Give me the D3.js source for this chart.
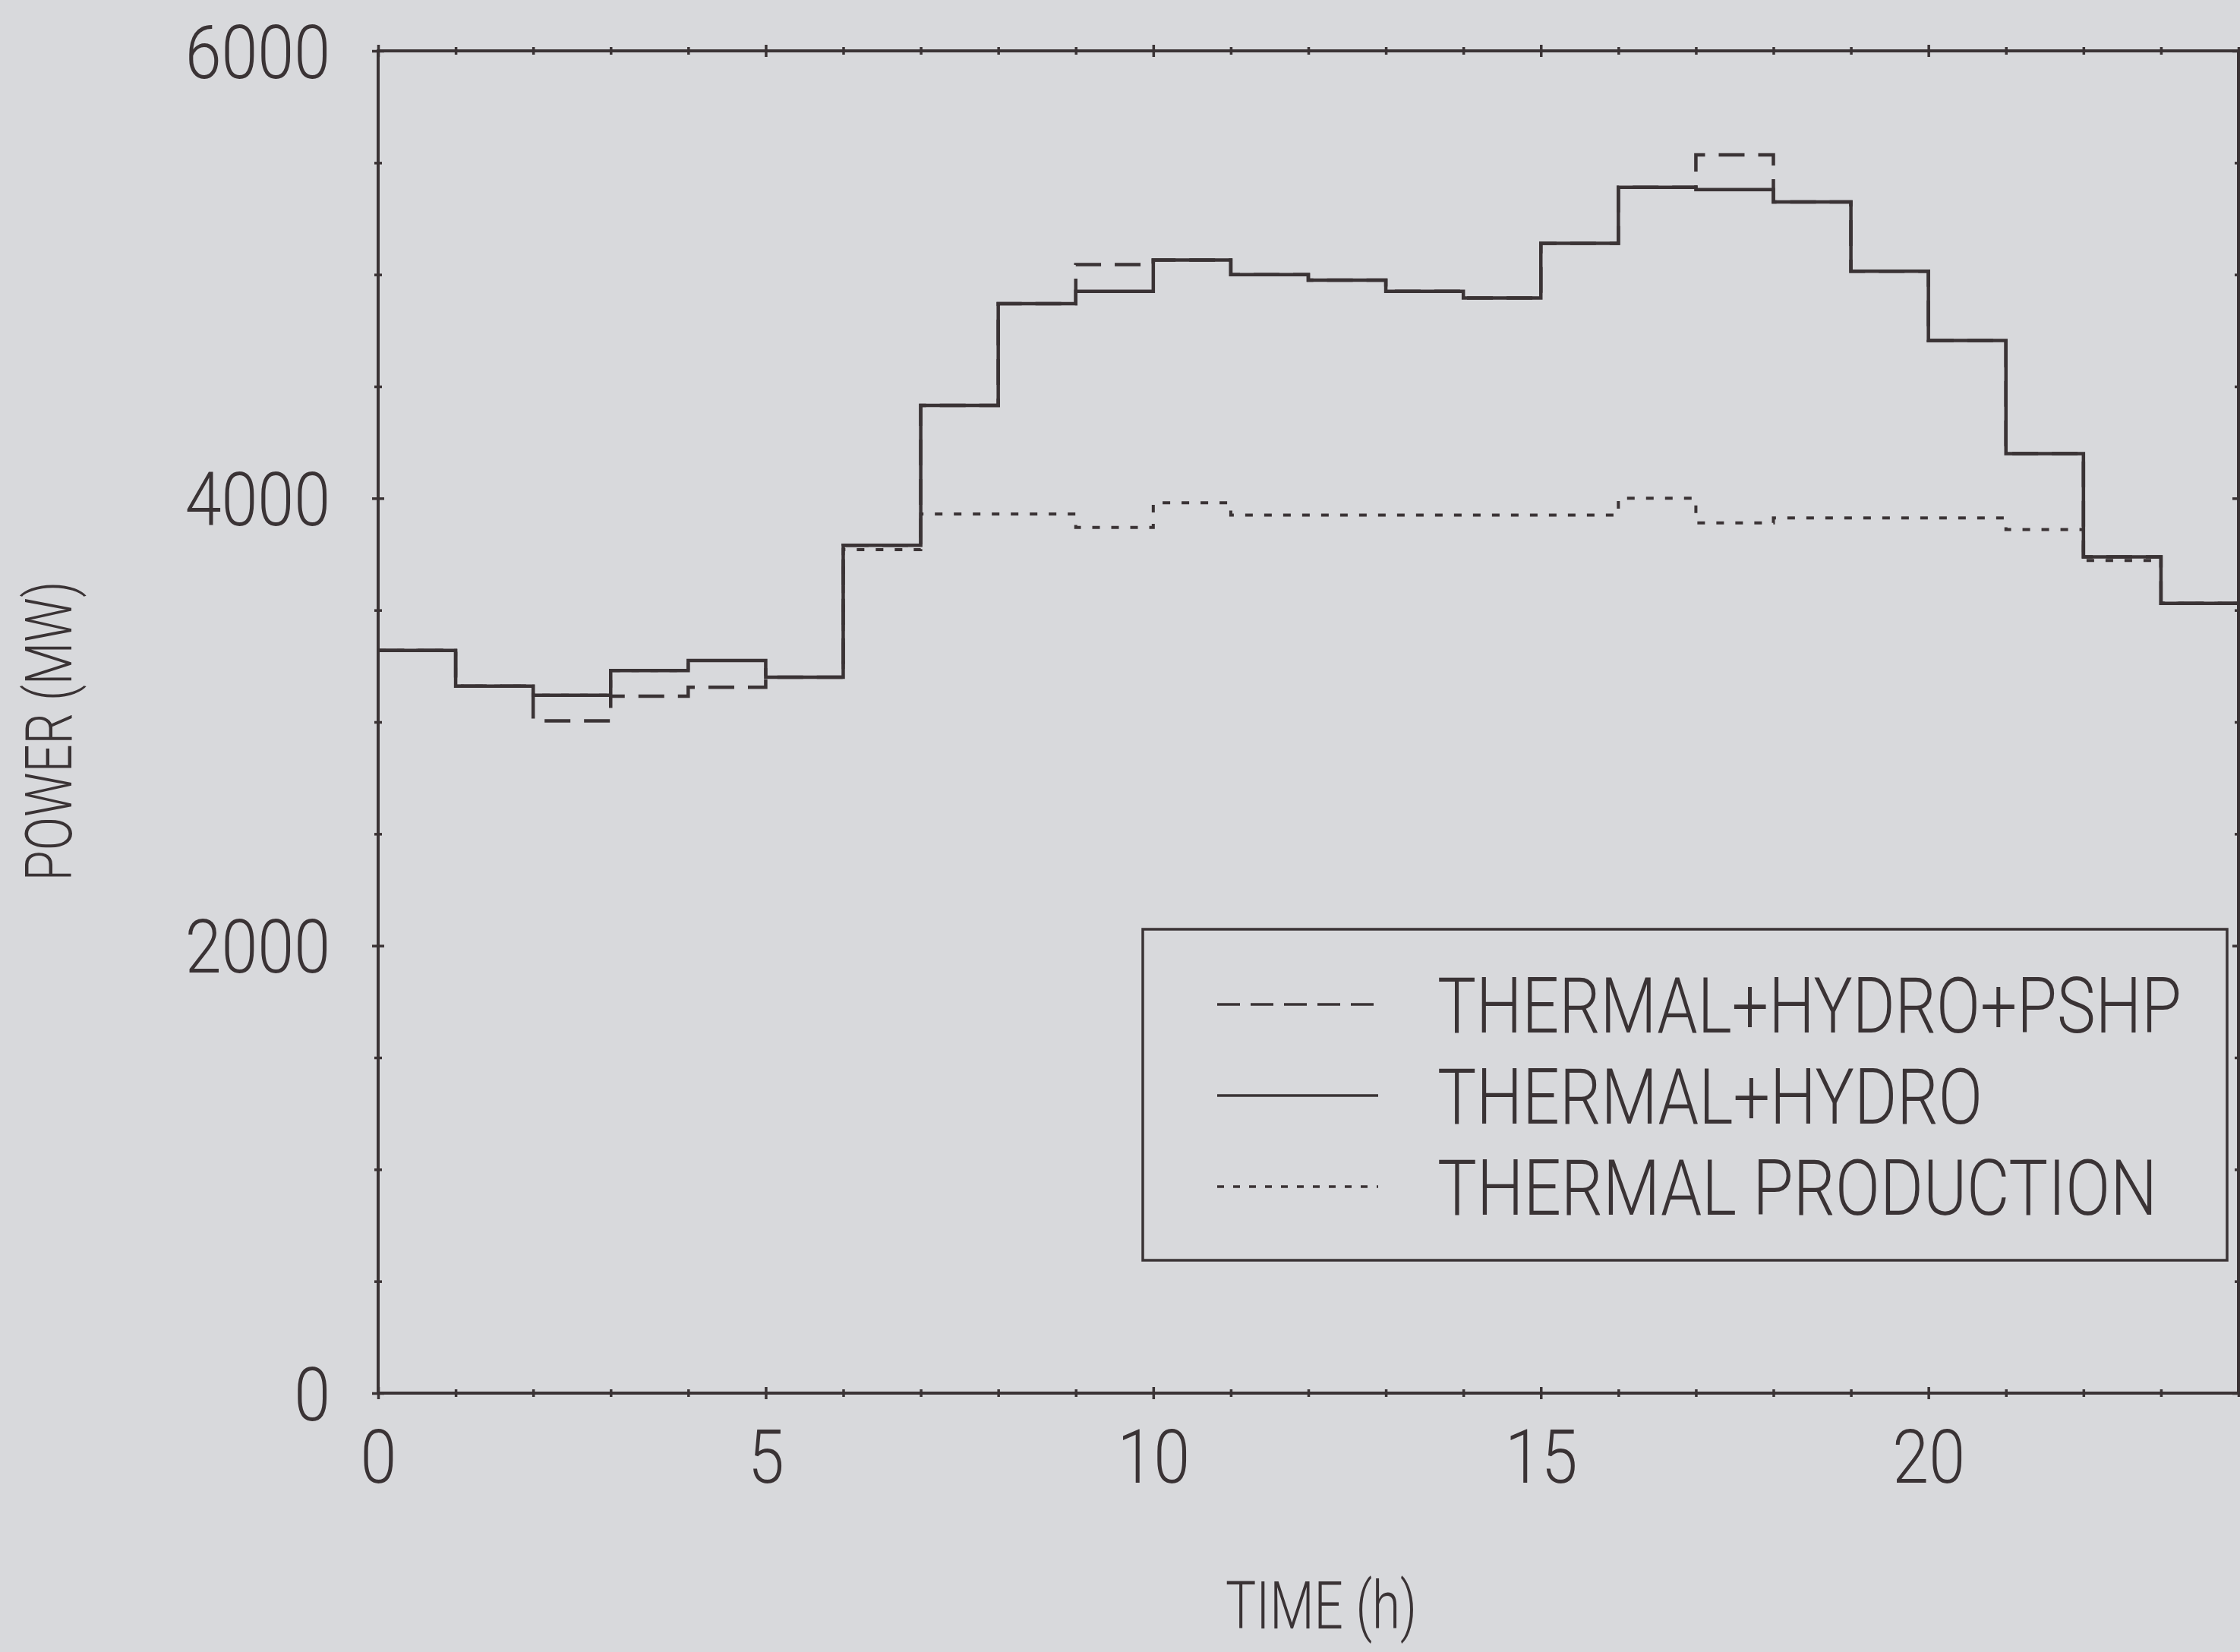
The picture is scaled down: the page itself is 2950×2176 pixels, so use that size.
<!DOCTYPE html>
<html>
<head>
<meta charset="utf-8">
<script src="https://cdn.jsdelivr.net/npm/d3@7"></script>
<style>
  html, body { margin: 0; padding: 0; background: #d8d9dc; }
  svg { display: block; }
  text { font-family: Roboto, "Liberation Sans", Arial, sans-serif; font-weight: 300; fill: #3a3335; }
</style>
</head>
<body>
<svg id="chart" width="2950" height="2176"></svg>
<script>
// step values, one per hour (0-23)
const hours = d3.range(0, 24);
const thermalHydroPshp = [3320, 3160, 3005, 3115, 3155, 3200, 3790, 4415, 4870, 5045, 5065, 5000,
  4975, 4925, 4895, 5140, 5390, 5535, 5325, 5015, 4705, 4200, 3738, 3530];
const thermalHydro = [3320, 3160, 3120, 3230, 3275, 3200, 3790, 4415, 4870, 4925, 5065, 5000,
  4975, 4925, 4895, 5140, 5390, 5380, 5325, 5015, 4705, 4200, 3738, 3530];
const thermalProduction = [3320, 3160, 3120, 3230, 3275, 3200, 3770, 3930, 3930, 3870, 3980, 3925,
  3925, 3925, 3925, 3925, 4000, 3890, 3912, 3912, 3912, 3860, 3722, 3530];

const seriesNames = ["THERMAL+HYDRO+PSHP", "THERMAL+HYDRO", "THERMAL PRODUCTION"];
const xTickLabels = [0, 5, 10, 15, 20];
const yTickLabels = [0, 2000, 4000, 6000];

const ink = "#3a3335";
const svg = d3.select("#chart");

const x = d3.scaleLinear().domain([0, 24]).range([498, 2948]);
const y = d3.scaleLinear().domain([0, 6000]).range([1835, 67]);

const hourTicks = d3.range(0, 25);
const mwTicks = d3.range(0, 6001, 500);

// squeeze a text horizontally so it spans the given width
function squeeze(text, target, anchorX, anchorY) {
  const w = text.node().getComputedTextLength();
  const s = Math.min(1, target / w);
  text.attr("x", 0).attr("y", 0)
    .attr("transform", `translate(${anchorX},${anchorY}) scale(${s},1)`);
}

// crossing tick marks, longer on labelled ticks
function crossTicks(g, vertical, majors) {
  g.select(".domain").remove();
  g.selectAll(".tick line")
    .attr("stroke", ink)
    .attr("stroke-width", 3.5)
    .each(function(d) {
      const len = majors.includes(d) ? 8 : 5;
      if (vertical) d3.select(this).attr("y1", -len).attr("y2", len);
      else d3.select(this).attr("x1", -len).attr("x2", len);
    });
}

const tickFont = 98;
const tickScale = 0.88;

// bottom axis
svg.append("g")
  .attr("transform", `translate(0,${y(0)})`)
  .call(d3.axisBottom(x).tickValues(hourTicks).tickSize(0)
    .tickFormat(d => xTickLabels.includes(d) ? d : ""))
  .call(g => crossTicks(g, true, xTickLabels))
  .call(g => g.selectAll("text")
    .attr("font-size", tickFont).attr("fill", ink)
    .attr("y", 0).attr("dy", null)
    .attr("transform", `translate(0,118) scale(${tickScale},1)`));

// top axis
svg.append("g")
  .attr("transform", `translate(0,${y(6000)})`)
  .call(d3.axisTop(x).tickValues(hourTicks).tickSize(0).tickFormat(""))
  .call(g => crossTicks(g, true, xTickLabels));

// left axis
svg.append("g")
  .attr("transform", `translate(${x(0)},0)`)
  .call(d3.axisLeft(y).tickValues(mwTicks).tickSize(0)
    .tickFormat(d => yTickLabels.includes(d) ? d : ""))
  .call(g => crossTicks(g, false, yTickLabels))
  .call(g => g.selectAll("text")
    .attr("font-size", tickFont).attr("fill", ink)
    .attr("x", 0).attr("dy", "0.36em")
    .attr("transform", `translate(-63,0) scale(${tickScale},1)`));

// right axis
svg.append("g")
  .attr("transform", `translate(${x(24)},0)`)
  .call(d3.axisRight(y).tickValues(mwTicks).tickSize(0).tickFormat(""))
  .call(g => crossTicks(g, false, yTickLabels));

// frame
svg.append("rect")
  .attr("x", x(0)).attr("y", y(6000))
  .attr("width", x(24) - x(0)).attr("height", y(0) - y(6000))
  .attr("fill", "none").attr("stroke", ink).attr("stroke-width", 4);

// axis titles
const xTitle = svg.append("text")
  .attr("text-anchor", "middle")
  .attr("font-size", 88)
  .text("TIME (h)");
squeeze(xTitle, 252, 1740, 2145);

const yTitle = svg.append("text")
  .attr("text-anchor", "middle")
  .attr("font-size", 86)
  .text("POWER (MW)");
const yw = yTitle.node().getComputedTextLength();
yTitle.attr("transform", `translate(94,963) rotate(-90) scale(${Math.min(1, 395 / yw)},1)`);

// step lines
const stepLine = d3.line()
  .x(d => x(d[0]))
  .y(d => y(d[1]))
  .curve(d3.curveStepAfter);

function points(values) {
  const pts = hours.map((h, i) => [h, values[i]]);
  pts.push([24, values[values.length - 1]]);
  return pts;
}

const series = [
  { name: seriesNames[2], values: thermalProduction, dash: "10,15", width: 4 },
  { name: seriesNames[0], values: thermalHydroPshp, dash: "34,18", width: 4.5 },
  { name: seriesNames[1], values: thermalHydro, dash: null, width: 4.5 }
];

svg.append("g")
  .selectAll("path")
  .data(series)
  .join("path")
  .attr("d", d => stepLine(points(d.values)))
  .attr("fill", "none")
  .attr("stroke", ink)
  .attr("stroke-width", d => d.width)
  .attr("stroke-dasharray", d => d.dash);

// legend
const legend = svg.append("g");
legend.append("rect")
  .attr("x", 1505).attr("y", 1224)
  .attr("width", 1428).attr("height", 436)
  .attr("fill", "none").attr("stroke", ink).attr("stroke-width", 3.5);

const legendItems = [
  { name: seriesNames[0], dash: "30,14", len: 980 },
  { name: seriesNames[1], dash: null, len: 718 },
  { name: seriesNames[2], dash: "9,12", len: 948 }
];

legendItems.forEach((d, i) => {
  const cy = 1323 + i * 120;
  legend.append("line")
    .attr("x1", 1603).attr("x2", 1815)
    .attr("y1", cy).attr("y2", cy)
    .attr("stroke", ink).attr("stroke-width", 3.5)
    .attr("stroke-dasharray", d.dash);
  const t = legend.append("text")
    .attr("font-size", 102)
    .text(d.name);
  squeeze(t, d.len, 1893, cy + 37);
});
</script>
</body>
</html>
